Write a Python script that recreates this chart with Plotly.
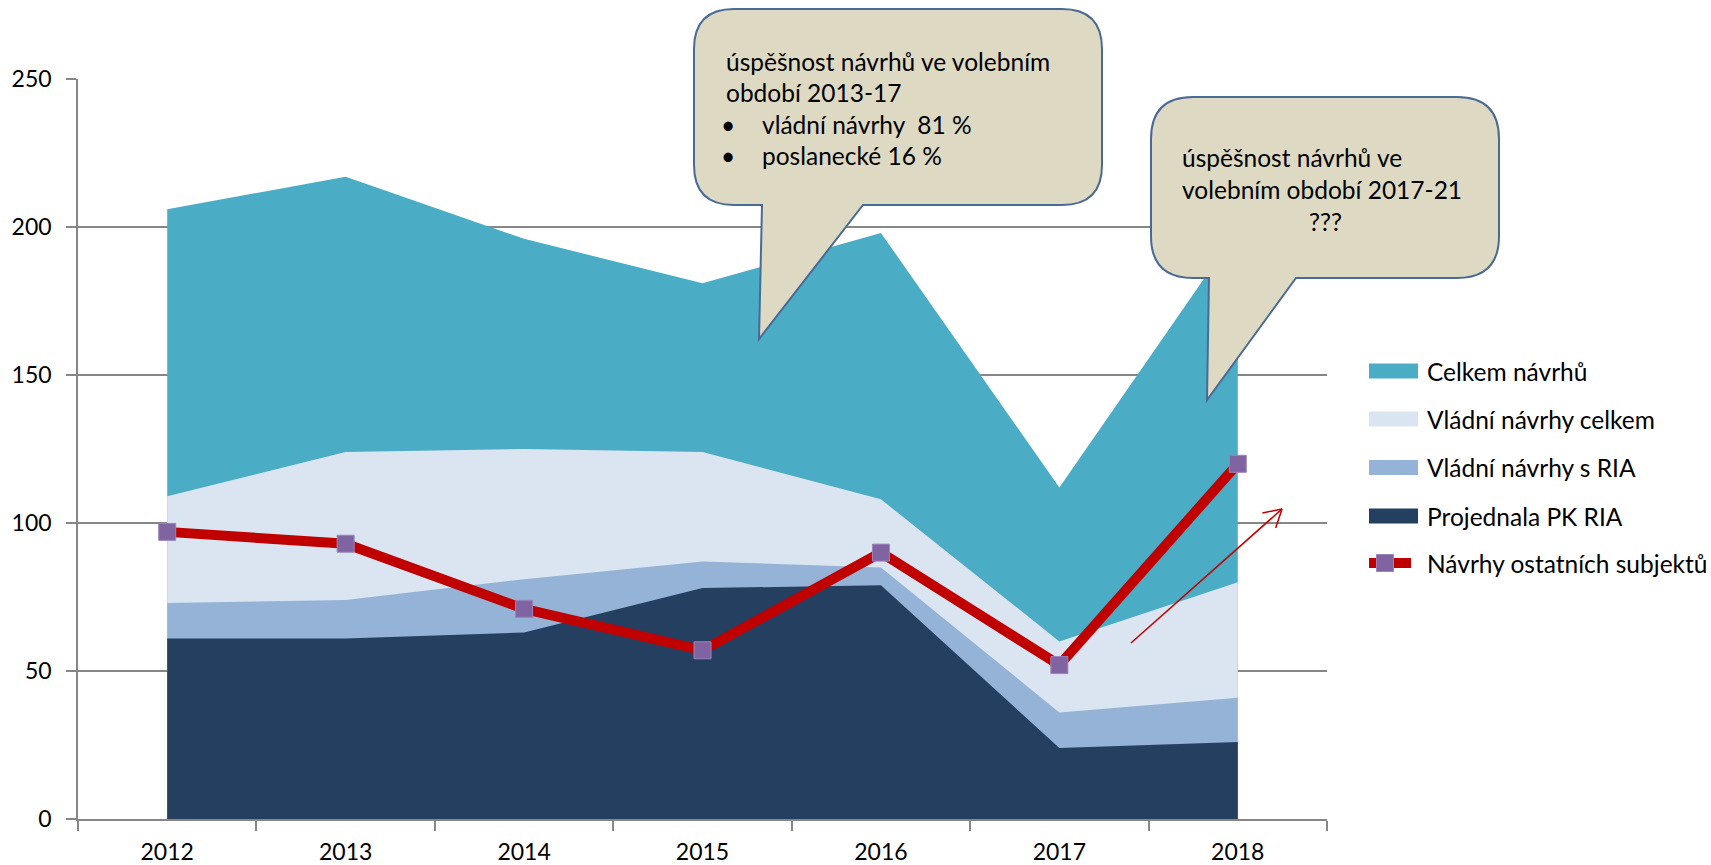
import math
import plotly.graph_objects as go

# ---------------- data ----------------
years = ["2012", "2013", "2014", "2015", "2016", "2017", "2018"]
celkem_navrhu = [206, 217, 196, 181, 198, 112, 199]
vladni_celkem = [109, 124, 125, 124, 108, 60, 80]
vladni_s_ria = [73, 74, 81, 87, 85, 36, 41]
projednala_pk_ria = [61, 61, 63, 78, 79, 24, 26]
navrhy_ostatnich = [97, 93, 71, 57, 90, 52, 120]
y_ticks = [0, 50, 100, 150, 200, 250]

series_names = ["Celkem návrhů", "Vládní návrhy celkem", "Vládní návrhy s RIA",
                "Projednala PK RIA", "Návrhy ostatních subjektů"]
callout1_lines = ["úspěšnost návrhů ve volebním", "období 2013-17"]
callout1_bullets = ["vládní návrhy\u00a0\u00a081 %", "poslanecké 16 %"]
callout2_lines = ["úspěšnost návrhů ve", "volebním období 2017-21", "???"]

# ---------------- styles ----------------
C_TEAL = "#4BACC6"
C_LIGHT = "#DBE5F1"
C_MID = "#95B3D7"
C_DARK = "#243F60"
C_RED = "#C00000"
C_PURPLE = "#8064A2"
C_GRID = "#868686"
C_CALLOUT = "#DDD9C3"
C_CALLOUT_LINE = "#4A6A96"
TXT_FONT = "Lato"

W, H = 1711, 865
ML, MR, MT, MB = 78, 384, 79, 46
PW, PH = W - ML - MR, H - MT - MB


def fx(x):
    return (x - ML) / PW


def fy(y):
    return (H - MB - y) / PH


fig = go.Figure()
for name, vals, col in [(series_names[0], celkem_navrhu, C_TEAL),
                        (series_names[1], vladni_celkem, C_LIGHT),
                        (series_names[2], vladni_s_ria, C_MID),
                        (series_names[3], projednala_pk_ria, C_DARK)]:
    fig.add_trace(go.Scatter(x=years, y=vals, name=name, mode="lines",
                             fill="tozeroy", fillcolor=col,
                             line=dict(width=0, color=col), showlegend=False,
                             hoverinfo="x+y+name"))

fig.add_trace(go.Scatter(x=years, y=navrhy_ostatnich, name=series_names[4],
                         mode="lines+markers",
                         line=dict(color=C_RED, width=10),
                         marker=dict(symbol="square", size=17, color=C_PURPLE,
                                     line=dict(color="#9A85BA", width=1)),
                         showlegend=False))

shapes = []
annotations = []


def callout_path(Lb, Rb, Tb, Bb, r, tail_l, tail_r, tip):
    def p(x, y):
        return f"{fx(x):.5f},{fy(y):.5f}"
    d = (f"M{p(Lb + r, Tb)} L{p(Rb - r, Tb)} Q{p(Rb, Tb)} {p(Rb, Tb + r)} "
         f"L{p(Rb, Bb - r)} Q{p(Rb, Bb)} {p(Rb - r, Bb)} "
         f"L{p(tail_r, Bb)} L{p(tip[0], tip[1])} L{p(tail_l, Bb)} "
         f"L{p(Lb + r, Bb)} Q{p(Lb, Bb)} {p(Lb, Bb - r)} "
         f"L{p(Lb, Tb + r)} Q{p(Lb, Tb)} {p(Lb + r, Tb)} Z")
    return d


shapes.append(dict(type="path", xref="paper", yref="paper",
                   path=callout_path(694, 1102, 9, 205, 40, 762, 863, (759, 339)),
                   fillcolor=C_CALLOUT, line=dict(color=C_CALLOUT_LINE, width=2),
                   layer="above"))
shapes.append(dict(type="path", xref="paper", yref="paper",
                   path=callout_path(1151, 1499, 97, 278, 42, 1209, 1296, (1207, 400)),
                   fillcolor=C_CALLOUT, line=dict(color=C_CALLOUT_LINE, width=2),
                   layer="above"))

# arrow (open head)
x0a, y0a, x1a, y1a = 1131, 643, 1282, 509
ang = math.atan2(y1a - y0a, x1a - x0a)
shapes.append(dict(type="line", xref="paper", yref="paper",
                   x0=fx(x0a), y0=fy(y0a), x1=fx(x1a), y1=fy(y1a),
                   line=dict(color=C_RED, width=1.5)))
for s in (1, -1):
    a2 = ang + math.pi + s * math.radians(30)
    shapes.append(dict(type="line", xref="paper", yref="paper",
                       x0=fx(x1a), y0=fy(y1a),
                       x1=fx(x1a + 20 * math.cos(a2)), y1=fy(y1a + 20 * math.sin(a2)),
                       line=dict(color=C_RED, width=1.5)))

font_txt = dict(family=TXT_FONT, size=24.5, color="#000000")
for i, t in enumerate(callout1_lines):
    annotations.append(dict(xref="paper", yref="paper", x=fx(724), y=fy(61 + 31.5 * i),
                            text=t, showarrow=False, xanchor="left", yanchor="middle",
                            font=font_txt))
for i, t in enumerate(callout1_bullets):
    yy = 124 + 31.5 * i
    annotations.append(dict(xref="paper", yref="paper", x=fx(728), y=fy(yy),
                            text="•", showarrow=False, xanchor="center", yanchor="middle",
                            font=font_txt))
    annotations.append(dict(xref="paper", yref="paper", x=fx(760), y=fy(yy),
                            text=t, showarrow=False, xanchor="left", yanchor="middle",
                            font=font_txt))
for i, t in enumerate(callout2_lines[:2]):
    annotations.append(dict(xref="paper", yref="paper", x=fx(1180), y=fy(157 + 32 * i),
                            text=t, showarrow=False, xanchor="left", yanchor="middle",
                            font=font_txt))
annotations.append(dict(xref="paper", yref="paper", x=fx(1325), y=fy(221),
                        text=callout2_lines[2], showarrow=False, xanchor="center",
                        yanchor="middle", font=font_txt))

# legend (drawn manually)
leg_y = [371, 419, 467.5, 516, 563]
leg_cols = [C_TEAL, C_LIGHT, C_MID, C_DARK]
for i, col in enumerate(leg_cols):
    shapes.append(dict(type="rect", xref="paper", yref="paper",
                       x0=fx(1369), x1=fx(1418), y0=fy(leg_y[i] - 7.5), y1=fy(leg_y[i] + 7.5),
                       fillcolor=col, line=dict(width=0), layer="above"))
shapes.append(dict(type="line", xref="paper", yref="paper",
                   x0=fx(1369), x1=fx(1411), y0=fy(leg_y[4]), y1=fy(leg_y[4]),
                   line=dict(color=C_RED, width=10), layer="above"))
shapes.append(dict(type="rect", xref="paper", yref="paper",
                   x0=fx(1376.5), x1=fx(1393.5), y0=fy(leg_y[4] - 8.5), y1=fy(leg_y[4] + 8.5),
                   fillcolor=C_PURPLE, line=dict(color="#9A85BA", width=1), layer="above"))
for i, nm in enumerate(series_names):
    annotations.append(dict(xref="paper", yref="paper", x=fx(1425), y=fy(leg_y[i]),
                            text=nm, showarrow=False, xanchor="left", yanchor="middle",
                            font=font_txt))

tick_font = dict(family=TXT_FONT, size=23, color="#000000")
fig.update_layout(
    template="none",
    width=W, height=H,
    margin=dict(l=ML, r=MR, t=MT, b=MB, pad=0),
    paper_bgcolor="white", plot_bgcolor="white",
    showlegend=False,
    shapes=shapes, annotations=annotations,
    xaxis=dict(type="category", range=[-0.5, 6.5], tickson="boundaries",
               ticks="outside", ticklen=10, tickcolor=C_GRID, tickwidth=1.5,
               showline=True, linecolor=C_GRID, linewidth=1.5, showgrid=False,
               zeroline=False, automargin=False, ticklabelstandoff=12,
               tickfont=tick_font),
    yaxis=dict(range=[0, 250], tickvals=y_ticks, ticks="outside", ticklen=10,
               tickcolor=C_GRID, tickwidth=1.5, showline=True, linecolor=C_GRID,
               linewidth=1.5, showgrid=True, gridcolor=C_GRID, gridwidth=1.5,
               zeroline=False, automargin=False, ticklabelstandoff=10,
               tickfont=tick_font),
)

fig.write_html("out.html", config={"displayModeBar": False},
               post_script="document.body.style.margin='0';")
